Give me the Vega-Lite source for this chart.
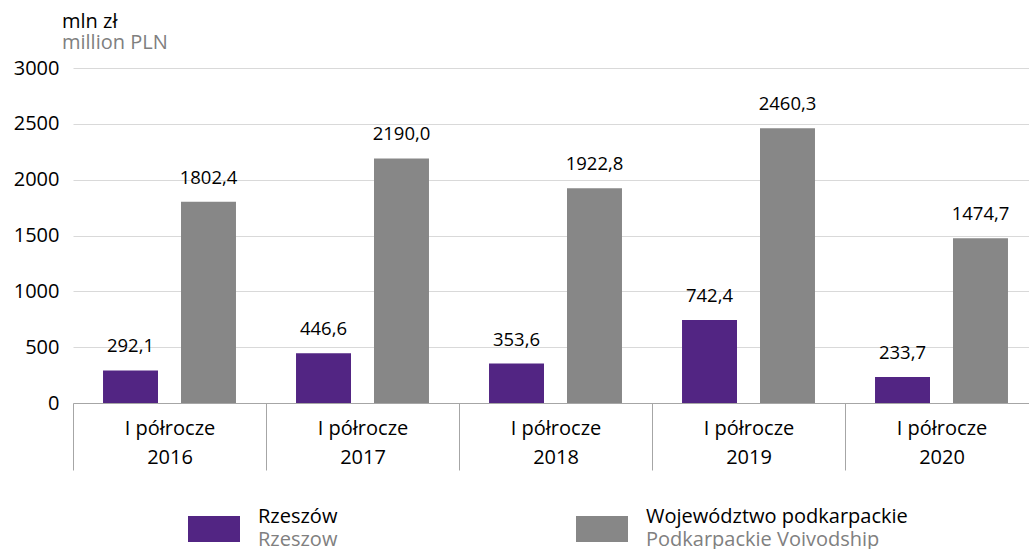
{
  "$schema": "https://vega.github.io/schema/vega-lite/v6.json",
  "width": 956,
  "height": 335,
  "autosize": {"type": "none"},
  "padding": {"left": 73, "top": 68, "right": 0, "bottom": 146},
  "background": "white",
  "config": {
    "font": "Open Sans",
    "view": {"stroke": null},
    "locale": {"number": {"decimal": ",", "thousands": "", "grouping": [3], "currency": ["", " zł"]}}
  },
  "title": {
    "text": "mln zł",
    "subtitle": "million PLN",
    "anchor": "start",
    "frame": "group",
    "dx": -11,
    "offset": 5,
    "fontSize": 20,
    "fontWeight": "normal",
    "color": "#000000",
    "subtitleColor": "#7f7f7f",
    "subtitleFontSize": 20,
    "subtitlePadding": 1
  },
  "data": {
    "values": [
      {"period": "2016", "series": "Rzeszów", "series_en": "Rzeszow", "value": 292.1},
      {"period": "2016", "series": "Województwo podkarpackie", "series_en": "Podkarpackie Voivodship", "value": 1802.4},
      {"period": "2017", "series": "Rzeszów", "series_en": "Rzeszow", "value": 446.6},
      {"period": "2017", "series": "Województwo podkarpackie", "series_en": "Podkarpackie Voivodship", "value": 2190.0},
      {"period": "2018", "series": "Rzeszów", "series_en": "Rzeszow", "value": 353.6},
      {"period": "2018", "series": "Województwo podkarpackie", "series_en": "Podkarpackie Voivodship", "value": 1922.8},
      {"period": "2019", "series": "Rzeszów", "series_en": "Rzeszow", "value": 742.4},
      {"period": "2019", "series": "Województwo podkarpackie", "series_en": "Podkarpackie Voivodship", "value": 2460.3},
      {"period": "2020", "series": "Rzeszów", "series_en": "Rzeszow", "value": 233.7},
      {"period": "2020", "series": "Województwo podkarpackie", "series_en": "Podkarpackie Voivodship", "value": 1474.7}
    ]
  },
  "encoding": {
    "x": {
      "field": "period",
      "type": "nominal",
      "sort": null,
      "scale": {"range": [0, 965], "paddingInner": 0, "paddingOuter": 0},
      "axis": {
        "title": null,
        "labelExpr": "isValid(datum.value) ? ['I półrocze', datum.value] : ''",
        "labelAngle": 0,
        "labelFontSize": 20,
        "labelColor": "#000000",
        "labelLineHeight": 29,
        "labelBaseline": "top",
        "labelPadding": -52,
        "tickBand": "extent",
        "tickSize": 67,
        "tickColor": "#a6a6a6",
        "domainColor": "#a6a6a6",
        "grid": false
      }
    },
    "xOffset": {
      "field": "series",
      "type": "nominal",
      "sort": ["Rzeszów", "Województwo podkarpackie"],
      "scale": {"paddingInner": 0.295, "paddingOuter": 0.385}
    },
    "y": {
      "field": "value",
      "type": "quantitative",
      "scale": {"domain": [0, 3000]},
      "axis": {
        "title": null,
        "values": [0, 500, 1000, 1500, 2000, 2500, 3000],
        "format": "d",
        "domain": false,
        "ticks": false,
        "tickSize": 0,
        "labelPadding": 14,
        "labelFontSize": 20,
        "labelColor": "#000000",
        "gridColor": "#d9d9d9"
      }
    }
  },
  "layer": [
    {
      "mark": {"type": "bar"},
      "encoding": {
        "color": {
          "field": "series",
          "type": "nominal",
          "sort": ["Rzeszów", "Województwo podkarpackie"],
          "scale": {"domain": ["Rzeszów", "Województwo podkarpackie"], "range": ["#522583", "#878787"]},
          "legend": {
            "orient": "none",
            "legendX": 115,
            "legendY": 435,
            "direction": "horizontal",
            "title": null,
            "symbolType": "M-1,-0.5H1V0.5H-1Z",
            "symbolSize": 2704,
            "symbolStrokeWidth": 0,
            "labelFontSize": 20,
            "labelOffset": 18,
            "labelBaseline": "bottom",
            "labelColor": "#000000",
            "labelLimit": 400,
            "columnPadding": 238,
            "encode": {"labels": {"update": {"dy": {"value": -2}}}}
          }
        },
        "opacity": {
          "field": "series_en",
          "type": "ordinal",
          "sort": ["Rzeszow", "Podkarpackie Voivodship"],
          "scale": {"domain": ["Rzeszow", "Podkarpackie Voivodship"], "range": [1, 1]},
          "legend": {
            "orient": "none",
            "legendX": 115,
            "legendY": 435,
            "direction": "horizontal",
            "title": null,
            "symbolType": "M0,0",
            "symbolSize": 2704,
            "symbolStrokeWidth": 0,
            "symbolFillColor": "transparent",
            "labelFontSize": 20,
            "labelOffset": 18,
            "labelBaseline": "top",
            "labelColor": "#808080",
            "labelLimit": 400,
            "columnPadding": 238,
            "encode": {"labels": {"update": {"dy": {"value": 1}}}}
          }
        }
      }
    },
    {
      "mark": {"type": "text", "baseline": "bottom", "dy": -14, "fontSize": 18.5, "color": "#000000"},
      "encoding": {
        "text": {"field": "value", "type": "quantitative", "format": ".1f"}
      }
    }
  ]
}
